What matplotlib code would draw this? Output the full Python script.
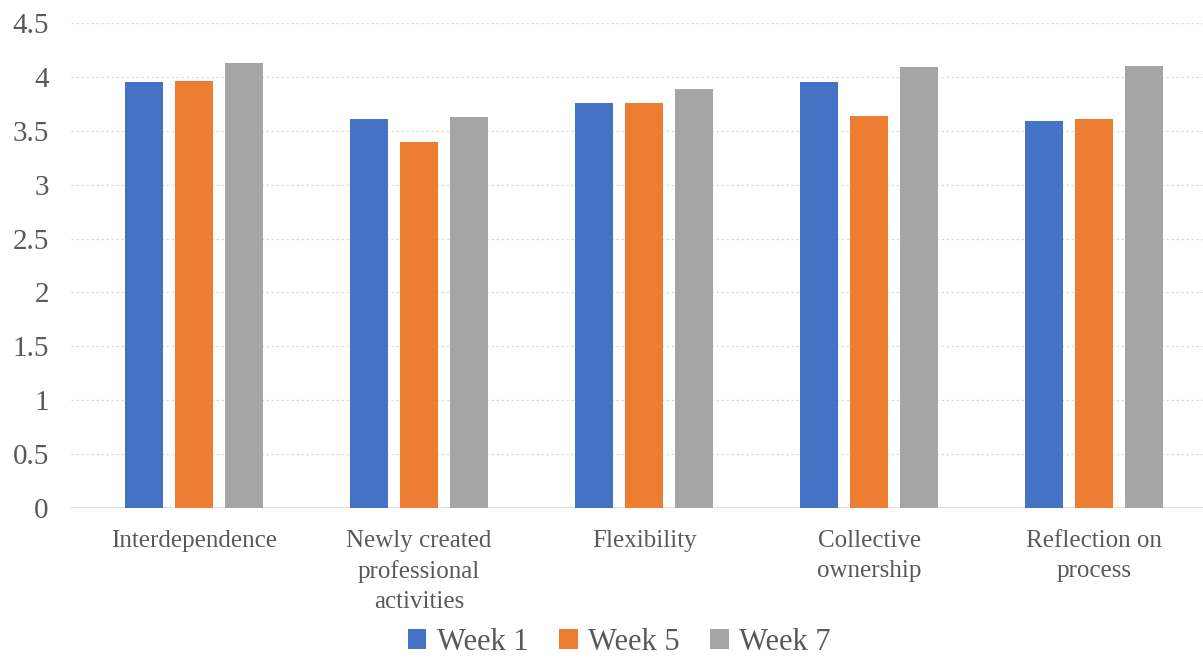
import matplotlib.pyplot as plt
import numpy as np

# values
CATEGORIES = [
    "Interdependence",
    "Newly created\nprofessional\nactivities",
    "Flexibility",
    "Collective\nownership",
    "Reflection on\nprocess",
]
SERIES = ["Week 1", "Week 5", "Week 7"]
WEEK1 = [3.95, 3.61, 3.76, 3.95, 3.59]
WEEK5 = [3.96, 3.40, 3.76, 3.64, 3.61]
WEEK7 = [4.13, 3.63, 3.89, 4.09, 4.10]
Y_TICKS = [0, 0.5, 1, 1.5, 2, 2.5, 3, 3.5, 4, 4.5]

COLORS = ["#4472C4", "#ED7D31", "#A5A5A5"]
TEXT = "#595959"
SERIF = ["Liberation Serif", "DejaVu Serif"]

fig = plt.figure(figsize=(12.03, 6.6), dpi=100)
ax = fig.add_axes([0.059, 0.2303, 0.941, 0.7348])

x = np.arange(len(CATEGORIES))
step = 0.222
width = 0.17
for i, (name, vals) in enumerate(zip(SERIES, [WEEK1, WEEK5, WEEK7])):
    ax.bar(x + (i - 1) * step, vals, width=width, color=COLORS[i],
           label=name, zorder=3)

ax.set_xlim(-0.547, 4.484)
ax.set_ylim(0, 4.5)
ax.set_yticks(Y_TICKS)
ax.set_yticklabels([f"{t:g}" for t in Y_TICKS], family=SERIF,
                   fontsize=21, color=TEXT)
ax.set_xticks(x)
ax.set_xticklabels(CATEGORIES, family=SERIF, fontsize=18, color=TEXT,
                   linespacing=1.46, va="top")
ax.tick_params(axis="y", length=0, pad=16)
ax.tick_params(axis="x", length=0, pad=16)

for s in ax.spines.values():
    s.set_visible(False)
ax.grid(axis="y", color="#DCDCDC", linewidth=0.9, linestyle=(0, (2, 2)),
        zorder=0)
ax.axhline(0, color="#D9D9D9", linewidth=1.2, zorder=2)

fig.legend(loc="center", bbox_to_anchor=(0.515, 0.027), ncol=3,
           frameon=False, prop={"family": SERIF, "size": 22},
           labelcolor=TEXT, handlelength=0.6, handleheight=0.6,
           handletextpad=0.35, columnspacing=1.0)

fig.savefig("out.png", dpi=100)
